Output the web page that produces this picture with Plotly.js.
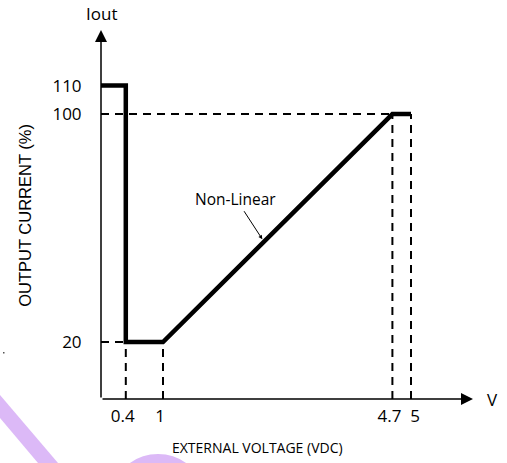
<!DOCTYPE html>
<html>
<head>
<meta charset="utf-8">
<script src="https://cdn.plot.ly/plotly-3.0.1.min.js"></script>
<style>
  html, body { margin: 0; padding: 0; background: #ffffff; }
  #wrap { position: relative; width: 507px; height: 463px; overflow: hidden; }
  #bg { position: absolute; left: 0; top: 0; }
  #chart { position: absolute; left: 0; top: 0; width: 507px; height: 463px; }
</style>
</head>
<body>
<div id="wrap">
  <svg id="bg" width="507" height="463">
    <polygon points="0,395 58,463 38,463 0,418" fill="#dcb9f7"/>
    <circle cx="158" cy="502" r="41" fill="none" stroke="#dcb9f7" stroke-width="14"/>
    <rect x="3" y="352" width="1.5" height="1.5" fill="#555"/>
  </svg>
  <div id="chart"></div>
</div>
<script>
// Curve: output current (%) vs external voltage (VDC)
const voltage = [0, 0.4, 0.4, 1, 4.7, 5];
const current = [110, 110, 20, 20, 100, 100];

// Tick labels
const xTickVals = [0.4, 1, 4.7, 5];
const xTickText = ['0.4', '1', '4.7', '5'];
const yTickVals = [20, 100, 110];
const yTickText = ['20', '100', '110'];

// Dashed reference lines
const vGuideX = [0.4, 1, 4.7, 5];
const vGuideTop = [20, 20, 100, 100];
const hGuideLevel = [20, 100];
const hGuideEnd = [0.4, 4.7];

const xMax = 6.0;
const yMax = 129.5;

const gx = [], gy = [];
vGuideX.forEach((v, i) => { gx.push(v, v, null); gy.push(0, vGuideTop[i], null); });
hGuideLevel.forEach((l, i) => { gx.push(0, hGuideEnd[i], null); gy.push(l, l, null); });

const traces = [
  { x: gx, y: gy, xaxis: 'x2', yaxis: 'y', mode: 'lines', line: { color: '#000', width: 2, dash: '8px,6px' }, hoverinfo: 'skip', showlegend: false },
  { x: voltage, y: current, mode: 'lines', line: { color: '#000', width: 4.5 }, showlegend: false }
];

// point on the linear ramp for the "Non-Linear" callout
const t = 0.44;
const px = voltage[3] + t * (voltage[4] - voltage[3]);
const py = current[3] + t * (current[4] - current[3]);

const sans = '"Open Sans", sans-serif';
const tickFont = { family: sans, size: 17, color: '#000' };

const n = xTickVals.length;
const xBase = {
  range: [0, xMax], showgrid: false, zeroline: false, showline: false,
  tickmode: 'array', tickangle: 0,
  ticks: 'outside', ticklen: 2, tickcolor: 'rgba(0,0,0,0)',
  tickfont: tickFont, fixedrange: true
};

const layout = {
  width: 507, height: 463,
  margin: { l: 101, r: 34, t: 30, b: 64, pad: 0 },
  paper_bgcolor: 'rgba(0,0,0,0)',
  plot_bgcolor: 'rgba(0,0,0,0)',
  xaxis: Object.assign({}, xBase, {
    tickvals: xTickVals.slice(0, n - 1), ticktext: xTickText.slice(0, n - 1), ticklabelshift: -3
  }),
  xaxis2: Object.assign({}, xBase, {
    overlaying: 'x', anchor: 'y', side: 'bottom',
    tickvals: xTickVals.slice(n - 1), ticktext: xTickText.slice(n - 1), ticklabelshift: 4
  }),
  yaxis: {
    range: [0, yMax], showgrid: false, zeroline: false, showline: false,
    tickmode: 'array', tickvals: yTickVals, ticktext: yTickText, tickangle: 0,
    ticks: 'outside', ticklen: 15, tickcolor: 'rgba(0,0,0,0)',
    tickfont: tickFont, fixedrange: true
  },
  annotations: [
    { x: xMax, y: 0, ax: 0, ay: 0, xref: 'x', yref: 'y', axref: 'x', ayref: 'y',
      text: '', showarrow: true, arrowhead: 2, arrowsize: 1.6, arrowwidth: 1.5, arrowcolor: '#000', standoff: 0 },
    { x: 0, y: yMax, ax: 0, ay: 0, xref: 'x', yref: 'y', axref: 'x', ayref: 'y',
      text: '', showarrow: true, arrowhead: 2, arrowsize: 1.6, arrowwidth: 1.5, arrowcolor: '#000', standoff: 0 },
    { x: 0, xref: 'x', y: 1, yref: 'paper', yanchor: 'bottom', yshift: 3, text: 'Iout',
      showarrow: false, font: { family: sans, size: 17, color: '#000' } },
    { x: 1, xref: 'paper', xanchor: 'left', xshift: 12, y: 0, yref: 'y', yanchor: 'middle', text: 'V',
      showarrow: false, font: { family: sans, size: 17, color: '#000' } },
    { x: 0.4205, xref: 'paper', y: 0, yref: 'paper', yanchor: 'top', yshift: -37,
      text: 'EXTERNAL VOLTAGE (VDC)', showarrow: false,
      font: { family: sans, size: 14, color: '#000' } },
    { x: -0.205, xref: 'paper', y: 0.4986, yref: 'paper', xanchor: 'center', yanchor: 'middle', textangle: -90,
      text: 'OUTPUT CURRENT (%)', showarrow: false,
      font: { family: '"Liberation Sans", Arial, sans-serif', size: 16.5, color: '#000' } },
    { x: px, y: py, xref: 'x', yref: 'y', ax: -28, ay: -43, text: 'Non-Linear',
      showarrow: true, arrowhead: 2, arrowsize: 0.8, arrowwidth: 1, arrowcolor: '#000', standoff: 3,
      font: { family: sans, size: 15.5, color: '#000' } }
  ]
};

Plotly.newPlot('chart', traces, layout, { displayModeBar: false, staticPlot: true });
</script>
</body>
</html>
